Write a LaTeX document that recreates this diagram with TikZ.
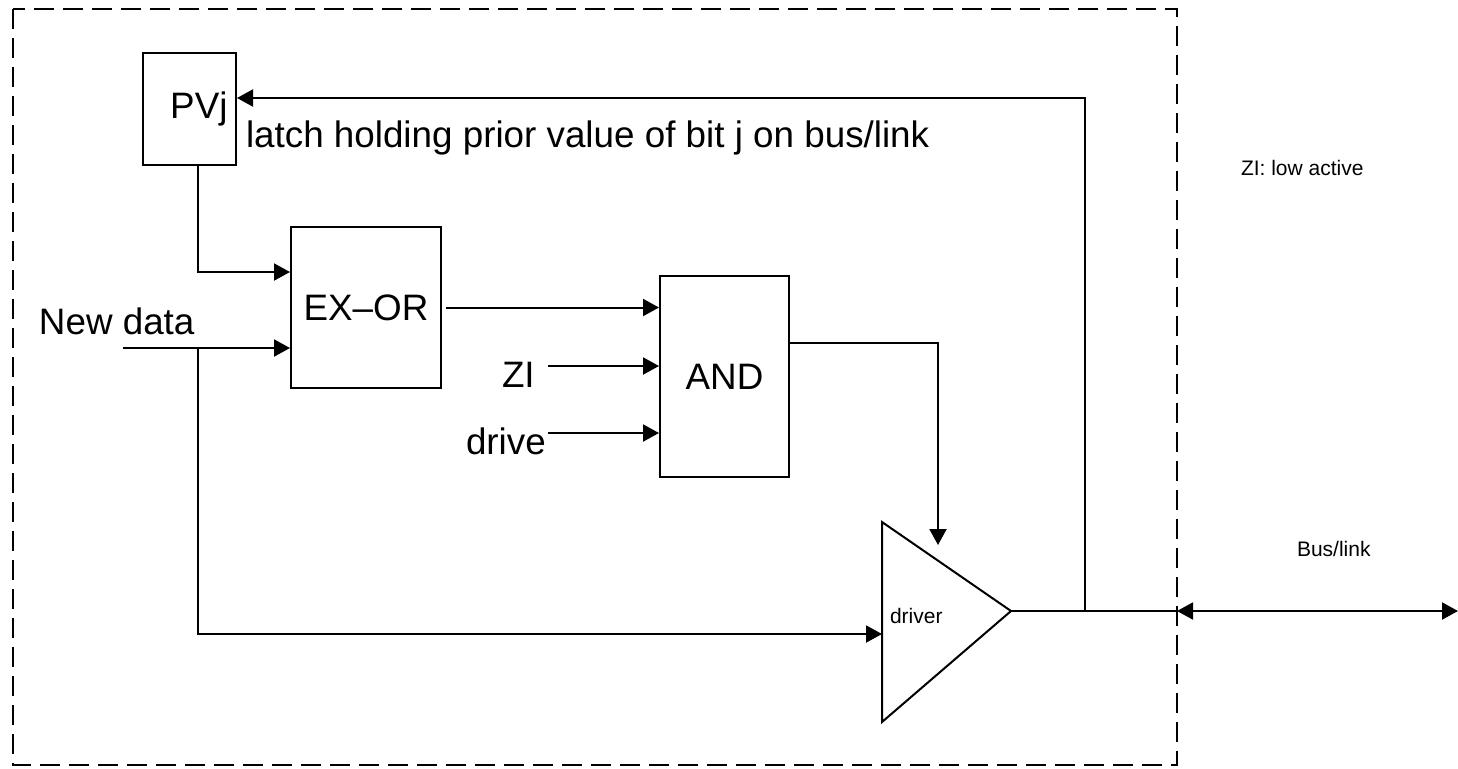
\documentclass[tikz,border=0pt]{standalone}
\usepackage{fontspec}
\setmainfont{Liberation Sans}
\usetikzlibrary{arrows.meta}

\begin{document}
\begin{tikzpicture}[x=0.5pt, y=-0.5pt, line width=1pt,
    box/.style={draw, inner sep=0pt, font=\fontsize{18.4}{20}\selectfont},
    big/.style={inner sep=0pt, font=\fontsize{18.4}{20}\selectfont},
    small/.style={inner sep=0pt, font=\fontsize{10.5}{12}\selectfont},
    >={Triangle[length=8pt, width=8.5pt]}]
    \useasboundingbox (0,0) rectangle (1458,768);
    \draw[dash pattern=on 10pt off 4.5pt] (13,9) rectangle (1177,765);

    \node[box, minimum width=46.5pt, minimum height=56pt, text width=38pt, align=right] (pvj) at (189.5,109) {PVj};
    \node[box, minimum width=75pt, minimum height=80.5pt] (exor) at (366,307.5) {EX--OR};
    \node[box, minimum width=64.5pt, minimum height=100.5pt] (and) at (724.5,376.5) {AND};

    % driver
    \coordinate (dtop) at (882,522);
    \coordinate (dbot) at (882,722);
    \coordinate (dout) at (1011,611);
    \draw (dtop) -- (dout) -- (dbot) -- cycle;
    \node[small, anchor=base west] (drvlabel) at (889,623) {driver};

    \node[big, anchor=base west] (latch) at (245,147) {latch holding prior value of bit j on bus/link};
    \node[big, anchor=base west] (newdata) at (38,334) {New data};
    \node[big, anchor=base west] (zi) at (501,387) {ZI};
    \node[big, anchor=base west] (drive) at (465,454) {drive};
    \node[small, anchor=base west] (note) at (1240,175) {ZI: low active};
    \node[small, anchor=base west] (bus) at (1296,556) {Bus/link};

    \coordinate (ndin) at (123,348);
    \coordinate (ndsplit) at (198,348);
    \coordinate (drvin) at (882,634);
    \coordinate (ziout) at (548,366);
    \coordinate (driveout) at (548,433);
    \coordinate (enin) at (938,545);
    \coordinate (fbsplit) at (1085,611);
    \coordinate (edge) at (1177,611);
    \coordinate (busend) at (1458,611);

    \draw[->] ([xshift=4.25pt]pvj.south) |- ([yshift=17.75pt]exor.west);
    \draw[->] (ndin) -- ([yshift=-20.25pt]exor.west);
    \draw[->] (ndsplit) |- (drvin);
    \draw[->, shorten <=2pt] (exor.east) -- (and.west |- exor.east);
    \draw[->] (ziout) -- (and.west |- ziout);
    \draw[->] (driveout) -- (and.west |- driveout);
    \draw[->] ([yshift=16.75pt]and.east) -| (enin);
    \draw (dout) -- (edge);
    \draw[->] (fbsplit) |- ([yshift=5.5pt]pvj.east);
    \draw[<->] (edge) -- (busend);
\end{tikzpicture}
\end{document}
